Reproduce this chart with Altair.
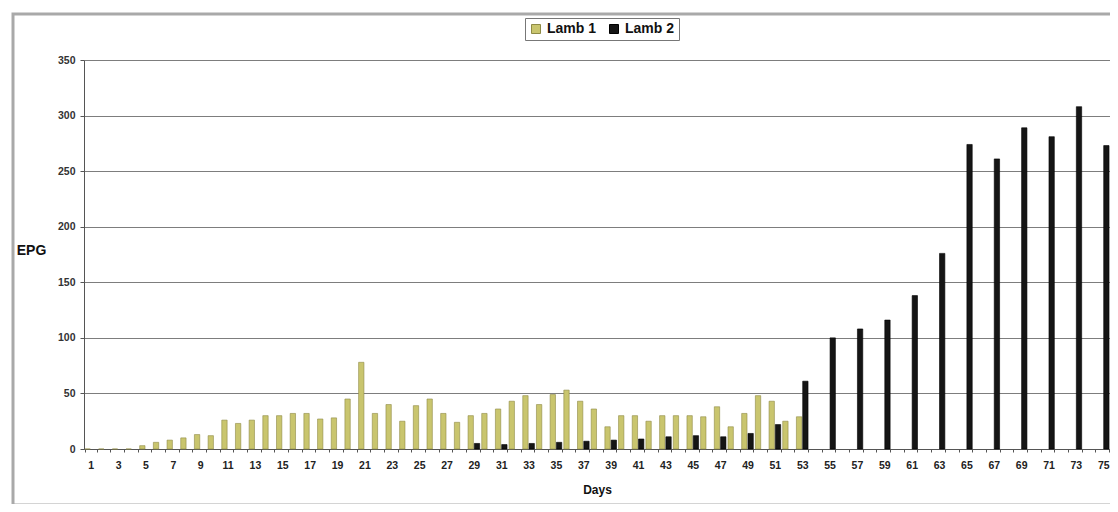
import altair as alt
import pandas as pd

days = list(range(1, 76))
series_names = ["Lamb 1", "Lamb 2"]

lamb1 = [0, 0, 0, 0, 3, 6, 8, 10, 13, 12,
         26, 23, 26, 30, 30, 32, 32, 27, 28, 45,
         78, 32, 40, 25, 39, 45, 32, 24, 30, 32,
         36, 43, 48, 40, 49, 53, 43, 36, 20, 30,
         30, 25, 30, 30, 30, 29, 38, 20, 32, 48,
         43, 25, 29] + [None] * 22

lamb2_days = [29, 31, 33, 35, 37, 39, 41, 43, 45, 47, 49, 51, 53,
              55, 57, 59, 61, 63, 65, 67, 69, 71, 73, 75]
lamb2_vals = [5, 4, 5, 6, 7, 8, 9, 11, 12, 11, 14, 22, 61,
              100, 108, 116, 138, 176, 274, 261, 289, 281, 308, 273]

y_ticks = [0, 50, 100, 150, 200, 250, 300, 350]

rows = []
for d, v in zip(days, lamb1):
    if v is not None:
        rows.append({"day": d, "series": "Lamb 1", "epg": v})
for d, v in zip(lamb2_days, lamb2_vals):
    rows.append({"day": d, "series": "Lamb 2", "epg": v})
df = pd.DataFrame(rows)

W, H = 1026, 389
FONT = "Liberation Sans"

bars = alt.Chart(df).mark_bar(strokeWidth=0.6).encode(
    x=alt.X("day:O", scale=alt.Scale(domain=days, paddingInner=0.15, paddingOuter=0.07),
            axis=alt.Axis(title="Days", labelExpr="datum.value % 2 == 1 ? datum.label : ''",
                          labelOverlap=False, labelAngle=0, tickBand="extent",
                          labelFontSize=10.5, labelFontWeight="bold", labelColor="#222",
                          labelFont=FONT, tickSize=3, tickColor="#555", labelPadding=8,
                          titleFontSize=12, titleFontWeight="bold", titleFont=FONT,
                          titleColor="#111", titlePadding=14,
                          domainColor="#555", grid=False)),
    xOffset=alt.XOffset("series:N", scale=alt.Scale(domain=series_names, paddingInner=0.15)),
    y=alt.Y("epg:Q", scale=alt.Scale(domain=[0, 350], nice=False),
            axis=alt.Axis(title="EPG", values=y_ticks, labelFontSize=10.5,
                          labelFontWeight="bold", labelColor="#333", labelFont=FONT,
                          tickSize=4, tickColor="#555", labelPadding=5,
                          domainColor="#555", gridColor="#7d7d7d", gridWidth=1,
                          titleAngle=0, titleX=-53, titleY=190, titleAlign="center",
                          titleBaseline="middle", titleFontSize=14,
                          titleFontWeight="bold", titleFont=FONT, titleColor="#111")),
    color=alt.Color("series:N",
                    scale=alt.Scale(domain=series_names, range=["#c9c56e", "#151515"]),
                    legend=alt.Legend(title=None, orient="none", legendX=441, legendY=-42,
                                      direction="horizontal", symbolType="square",
                                      symbolSize=81, symbolStrokeWidth=1,
                                      labelFontSize=14, labelFontWeight="bold",
                                      labelFont=FONT, labelColor="#111",
                                      strokeColor="#777", padding=4, columnPadding=10,
                                      labelOffset=4)),
    stroke=alt.Stroke("series:N",
                      scale=alt.Scale(domain=series_names, range=["#8e8a45", "#000000"]),
                      legend=None),
)

border = alt.Chart(alt.Data(values=[{}])).mark_rect(
    filled=False, stroke="#a9a9a9", strokeWidth=3
).encode(
    x=alt.value(-71), x2=alt.value(W + 40), y=alt.value(-46), y2=alt.value(445)
)

chart = alt.layer(border, bars).properties(
    width=W, height=H,
    autosize=alt.AutoSizeParams(type="none"),
    padding={"left": 76, "top": 52, "right": 0, "bottom": 55},
).configure_view(stroke=None).configure(background="white")

chart.save("out.html", embed_options={"renderer": "svg", "actions": False})
